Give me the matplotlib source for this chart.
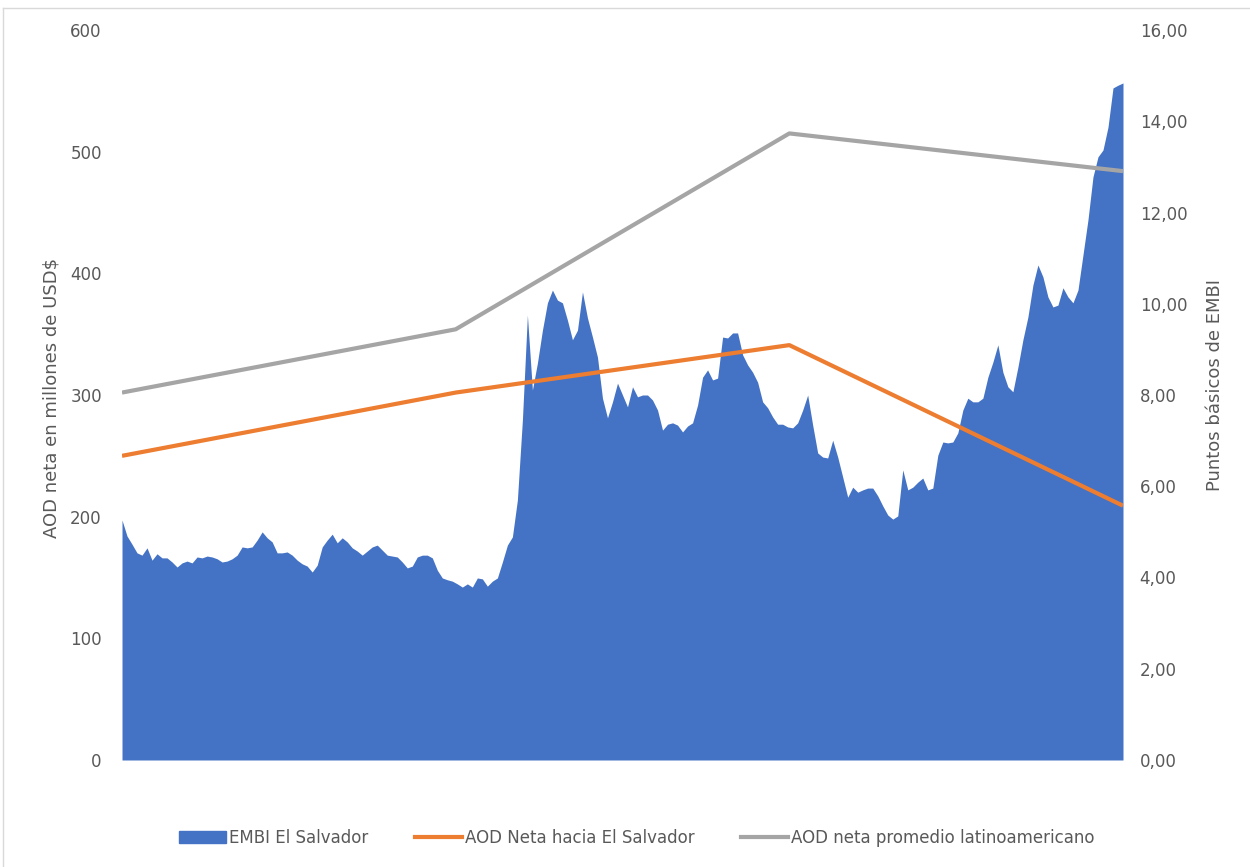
import numpy as np
import matplotlib
matplotlib.use("Agg")
import matplotlib.pyplot as plt
from matplotlib.lines import Line2D
from matplotlib.patches import Patch
from matplotlib.ticker import FuncFormatter, MultipleLocator

plt.rcParams['font.family'] = ['DejaVu Sans']

# Yearly AOD series (millones de USD$)
years = [0, 1, 2, 3]
aod_el_salvador = [250, 302, 341, 209]
aod_latam = [302, 354, 515, 484]

# EMBI El Salvador (daily-ish readings, right axis units)
embi = [
    5.26, 4.91, 4.73, 4.54, 4.49, 4.65, 4.38, 4.52, 4.43, 4.43,
    4.34, 4.23, 4.32, 4.36, 4.32, 4.45, 4.43, 4.47, 4.45, 4.41,
    4.34, 4.36, 4.41, 4.49, 4.67, 4.65, 4.67, 4.82, 5.00, 4.87,
    4.78, 4.54, 4.54, 4.56, 4.49, 4.38, 4.30, 4.25, 4.12, 4.27,
    4.67, 4.82, 4.95, 4.76, 4.87, 4.78, 4.65, 4.58, 4.49, 4.58,
    4.67, 4.71, 4.60, 4.49, 4.47, 4.45, 4.34, 4.21, 4.25, 4.45,
    4.49, 4.49, 4.43, 4.16, 3.99, 3.95, 3.92, 3.86, 3.79, 3.86,
    3.79, 3.99, 3.97, 3.81, 3.92, 3.99, 4.34, 4.71, 4.89, 5.70,
    7.45, 9.75, 8.11, 8.70, 9.42, 10.02, 10.30, 10.08, 10.02, 9.64,
    9.21, 9.42, 10.26, 9.69, 9.27, 8.83, 7.93, 7.50, 7.85, 8.26,
    8.00, 7.74, 8.18, 7.96, 8.00, 8.00, 7.89, 7.67, 7.23, 7.36,
    7.39, 7.34, 7.19, 7.32, 7.39, 7.78, 8.39, 8.55, 8.33, 8.37,
    9.27, 9.25, 9.36, 9.36, 8.88, 8.66, 8.50, 8.28, 7.85, 7.72,
    7.52, 7.36, 7.36, 7.30, 7.28, 7.39, 7.67, 8.00, 7.34, 6.73,
    6.64, 6.62, 7.01, 6.64, 6.20, 5.76, 5.98, 5.87, 5.92, 5.96,
    5.96, 5.79, 5.57, 5.37, 5.28, 5.35, 6.36, 5.92, 5.98, 6.09,
    6.18, 5.92, 5.96, 6.68, 6.97, 6.95, 6.97, 7.17, 7.67, 7.93,
    7.85, 7.85, 7.93, 8.39, 8.72, 9.10, 8.50, 8.18, 8.07, 8.61,
    9.21, 9.71, 10.41, 10.85, 10.59, 10.15, 9.93, 9.97, 10.35, 10.15,
    10.02, 10.30, 11.07, 11.84, 12.78, 13.22, 13.37, 13.87, 14.73, 14.79,
    14.84,
]

labels = ["EMBI El Salvador", "AOD Neta hacia El Salvador",
          "AOD neta promedio latinoamericano"]

BLUE = "#4472C4"
ORANGE = "#ED7D31"
GRAY = "#A5A5A5"
TXT = "#595959"
FS = 12
FS_LABEL = 13

W, H = 1250, 867
fig = plt.figure(figsize=(W / 100, H / 100), dpi=100)
ax = fig.add_axes([122 / W, 1 - 760 / H, (1123 - 122) / W, (760 - 30) / H])
ax2 = ax.twinx()

x_embi = np.linspace(years[0], years[-1], len(embi))
ax2.fill_between(x_embi, 0, embi, color=BLUE, linewidth=0)
ax.plot(years, aod_el_salvador, color=ORANGE, lw=3.0, solid_capstyle='butt')
ax.plot(years, aod_latam, color=GRAY, lw=3.0, solid_capstyle='butt')

ax.set_zorder(ax2.get_zorder() + 1)
ax.patch.set_visible(False)

ax.set_xlim(years[0], years[-1])
ax.set_ylim(0, 600)
ax2.set_ylim(0, 16)
ax.yaxis.set_major_locator(MultipleLocator(100))
ax2.yaxis.set_major_locator(MultipleLocator(2))
ax2.yaxis.set_major_formatter(FuncFormatter(lambda v, p: f"{v:.2f}".replace(".", ",")))

for a in (ax, ax2):
    for s in a.spines.values():
        s.set_visible(False)
    a.set_xticks([])
ax.tick_params(axis='y', length=0, pad=14.5, labelsize=FS, labelcolor=TXT)
ax2.tick_params(axis='y', length=0, pad=12, labelsize=FS, labelcolor=TXT)

fig.text(52 / W, 1 - 398 / H, "AOD neta en millones de USD$", rotation=90,
         ha='center', va='center', fontsize=FS_LABEL, color=TXT)
fig.text(1215 / W, 1 - 385 / H, "Puntos básicos de EMBI", rotation=90,
         ha='center', va='center', fontsize=FS_LABEL, color=TXT)

handles = [Patch(facecolor=BLUE, edgecolor=BLUE),
           Line2D([], [], color=ORANGE, lw=3.0),
           Line2D([], [], color=GRAY, lw=3.0)]
leg = fig.legend(handles, labels, loc='center', bbox_to_anchor=(637 / W, 1 - 838 / H),
                 ncol=3, frameon=False, fontsize=FS, handlelength=2.8,
                 handletextpad=0.2, columnspacing=2.8)
for t in leg.get_texts():
    t.set_color(TXT)

# chart border (top and left)
fig.add_artist(Line2D([3 / W, 1], [1 - 8 / H, 1 - 8 / H], color="#D9D9D9", lw=1))
fig.add_artist(Line2D([3 / W, 3 / W], [0, 1 - 8 / H], color="#D9D9D9", lw=1))

fig.savefig("out.png", dpi=100)
